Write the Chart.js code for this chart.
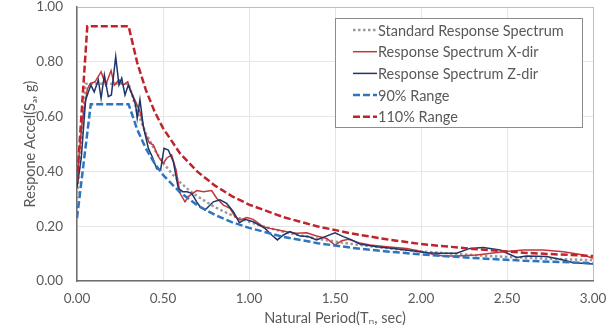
<!DOCTYPE html>
<html>
<head>
<meta charset="utf-8">
<script src="https://cdn.jsdelivr.net/npm/chart.js@4.4.0/dist/chart.umd.min.js"></script>
<style>
  html, body { margin: 0; padding: 0; background: #fff; }
  #wrap { width: 613px; height: 330px; position: relative; }
</style>
</head>
<body>
<div id="wrap"><canvas id="chart"></canvas></div>
<script>
// Standard response spectrum (gray dotted)
const periodsStd = [0, 0.05, 0.3, 0.35, 0.4, 0.45, 0.5, 0.55, 0.6, 0.65, 0.7, 0.8, 0.9, 1.0, 1.1, 1.2, 1.3, 1.4, 1.5, 1.6, 1.7, 1.8, 2.0, 2.2, 2.4, 2.5, 2.7, 3.0];
const accelStd = [0.30, 0.72, 0.72, 0.617, 0.54, 0.48, 0.432, 0.393, 0.36, 0.332, 0.309, 0.27, 0.24, 0.216, 0.196, 0.18, 0.166, 0.154, 0.144, 0.135, 0.127, 0.12, 0.108, 0.099, 0.091, 0.088, 0.082, 0.076];

// Response spectrum X-dir (red)
const periodsX = [0, 0.03, 0.06, 0.076, 0.105, 0.14, 0.167, 0.198, 0.217, 0.244, 0.269, 0.295, 0.314, 0.337, 0.366, 0.395, 0.42, 0.444, 0.473, 0.502, 0.521, 0.55, 0.576, 0.599, 0.628, 0.647, 0.696, 0.735, 0.783, 0.812, 0.851, 0.89, 0.919, 0.948, 0.987, 1.025, 1.083, 1.122, 1.17, 1.219, 1.277, 1.335, 1.393, 1.452, 1.5, 1.539, 1.578, 1.636, 1.703, 1.8, 1.917, 1.994, 2.07, 2.13, 2.207, 2.324, 2.479, 2.595, 2.711, 2.828, 2.944, 3.0];
const accelX = [0.38, 0.58, 0.70, 0.72, 0.727, 0.764, 0.715, 0.768, 0.715, 0.734, 0.715, 0.727, 0.69, 0.66, 0.618, 0.54, 0.505, 0.496, 0.454, 0.429, 0.448, 0.46, 0.405, 0.32, 0.289, 0.308, 0.33, 0.326, 0.33, 0.302, 0.277, 0.265, 0.235, 0.223, 0.232, 0.225, 0.198, 0.192, 0.186, 0.18, 0.174, 0.176, 0.164, 0.155, 0.131, 0.147, 0.152, 0.14, 0.131, 0.125, 0.119, 0.109, 0.098, 0.091, 0.091, 0.095, 0.107, 0.113, 0.113, 0.107, 0.095, 0.083];

// Response spectrum Z-dir (navy)
const periodsZ = [0, 0.025, 0.05, 0.066, 0.081, 0.1, 0.124, 0.14, 0.159, 0.182, 0.2, 0.225, 0.244, 0.26, 0.279, 0.298, 0.322, 0.341, 0.35, 0.366, 0.386, 0.415, 0.44, 0.463, 0.486, 0.506, 0.531, 0.56, 0.589, 0.615, 0.64, 0.667, 0.696, 0.715, 0.744, 0.793, 0.831, 0.87, 0.909, 0.944, 0.977, 1.025, 1.093, 1.132, 1.165, 1.2, 1.238, 1.297, 1.345, 1.393, 1.442, 1.5, 1.548, 1.597, 1.645, 1.742, 1.84, 1.936, 2.033, 2.11, 2.207, 2.285, 2.362, 2.459, 2.556, 2.614, 2.73, 2.828, 2.886, 3.0];
const accelZ = [0.34, 0.45, 0.66, 0.69, 0.715, 0.69, 0.734, 0.667, 0.752, 0.673, 0.679, 0.819, 0.715, 0.74, 0.679, 0.715, 0.679, 0.642, 0.594, 0.662, 0.563, 0.484, 0.45, 0.41, 0.405, 0.484, 0.478, 0.435, 0.338, 0.326, 0.326, 0.32, 0.289, 0.271, 0.259, 0.289, 0.296, 0.283, 0.253, 0.213, 0.225, 0.216, 0.192, 0.168, 0.15, 0.168, 0.18, 0.164, 0.162, 0.15, 0.162, 0.176, 0.162, 0.15, 0.135, 0.125, 0.119, 0.111, 0.103, 0.101, 0.101, 0.119, 0.122, 0.113, 0.086, 0.091, 0.089, 0.077, 0.067, 0.062];

// 90% range (blue dashed)
const periods90 = [0, 0.08, 0.3, 0.35, 0.4, 0.45, 0.5, 0.6, 0.7, 0.8, 0.9, 1.0, 1.2, 1.4, 1.6, 1.8, 2.0, 2.3, 2.6, 3.0];
const accel90 = [0.23, 0.645, 0.645, 0.553, 0.484, 0.43, 0.387, 0.323, 0.276, 0.242, 0.215, 0.194, 0.161, 0.138, 0.121, 0.108, 0.097, 0.084, 0.074, 0.065];

// 110% range (red dashed)
const periods110 = [0, 0.06, 0.3, 0.35, 0.4, 0.45, 0.5, 0.6, 0.7, 0.8, 0.9, 1.0, 1.2, 1.4, 1.6, 1.8, 2.0, 2.3, 2.6, 3.0];
const accel110 = [0.36, 0.93, 0.93, 0.797, 0.698, 0.62, 0.558, 0.465, 0.399, 0.349, 0.31, 0.279, 0.233, 0.199, 0.173, 0.152, 0.135, 0.117, 0.103, 0.091];

const seriesNames = ['Standard Response Spectrum', 'Response Spectrum X-dir', 'Response Spectrum Z-dir', '90% Range', '110% Range'];

const FONT = "Lato, 'Open Sans', sans-serif";
const TEXT = '#595959';

function pts(xs, ys) {
  return xs.map((x, i) => ({ x: x, y: ys[i] }));
}

function near(a, b) {
  return Math.abs(a - b) < 1e-6;
}

const legendBox = {
  id: 'legendBox',
  afterDatasetsDraw(chart) {
    const { ctx, chartArea } = chart;
    const w = 247, h = 109;
    const left = chartArea.right - 11 - w;
    const top = chartArea.top + 11;
    ctx.save();
    ctx.fillStyle = '#fff';
    ctx.fillRect(left, top, w, h);
    ctx.strokeStyle = '#8c8c8c';
    ctx.lineWidth = 1;
    ctx.strokeRect(left + 0.5, top + 0.5, w, h);
    ctx.font = '14.5px ' + FONT;
    ctx.textBaseline = 'middle';
    ctx.fillStyle = TEXT;
    chart.data.datasets.forEach((ds, i) => {
      const y = top + 12 + i * 21.7;
      ctx.save();
      ctx.strokeStyle = ds.borderColor;
      ctx.lineWidth = ds.borderWidth;
      ctx.setLineDash(ds.borderDash || []);
      ctx.lineCap = ds.borderCapStyle || 'butt';
      ctx.beginPath();
      ctx.moveTo(left + 18, y);
      ctx.lineTo(left + 42, y);
      ctx.stroke();
      ctx.restore();
      ctx.fillText(ds.label, left + 43, y + 1);
    });
    ctx.restore();
  }
};

new Chart(document.getElementById('chart'), {
  type: 'line',
  data: {
    datasets: [
      { label: seriesNames[0], data: pts(periodsStd, accelStd), borderColor: '#9a9a9a', borderWidth: 2.5, borderDash: [2.5, 2.5], order: 4 },
      { label: seriesNames[1], data: pts(periodsX, accelX), borderColor: '#c4363a', borderWidth: 1.5, order: 3 },
      { label: seriesNames[2], data: pts(periodsZ, accelZ), borderColor: '#1f3468', borderWidth: 1.5, order: 2 },
      { label: seriesNames[3], data: pts(periods90, accel90), borderColor: '#2e75c0', borderWidth: 2.5, borderDash: [7, 3], order: 1 },
      { label: seriesNames[4], data: pts(periods110, accel110), borderColor: '#c0232b', borderWidth: 2.5, borderDash: [7, 3], order: 0 }
    ]
  },
  options: {
    responsive: true,
    maintainAspectRatio: false,
    animation: false,
    devicePixelRatio: 1,
    elements: { point: { radius: 0 }, line: { tension: 0 } },
    layout: { padding: { top: 7, right: 20, left: 0, bottom: 0 } },
    plugins: { legend: { display: false }, tooltip: { enabled: false } },
    scales: {
      x: {
        type: 'linear',
        min: 0,
        max: 3,
        afterFit(scale) {
          scale.height = 49;
          scale.paddingLeft = 0;
          scale.paddingRight = 0;
        },
        ticks: { stepSize: 0.5, padding: 10, color: TEXT, font: { family: FONT, size: 13.5 }, callback: v => v.toFixed(2) },
        grid: { drawTicks: false, color: c => near(c.tick.value, 3) ? '#bfbfbf' : '#e6e6e6' },
        border: { color: '#6f6f6f', width: 1.5 },
        title: { display: true, text: 'Natural Period(Tₙ, sec)', color: TEXT, font: { family: FONT, size: 14.5 }, padding: { bottom: 3 } }
      },
      y: {
        min: 0,
        max: 1,
        afterFit(scale) {
          scale.width = 77;
          scale.paddingTop = 0;
          scale.paddingBottom = 0;
        },
        ticks: { stepSize: 0.2, padding: 14, color: TEXT, font: { family: FONT, size: 13.5 }, callback: v => v.toFixed(2) },
        grid: { drawTicks: false, color: c => near(c.tick.value, 1) ? '#bfbfbf' : '#e6e6e6' },
        border: { color: '#6f6f6f', width: 1.5 },
        title: { display: true, text: 'Respone Accel(Sₐ, g)', color: TEXT, font: { family: FONT, size: 14.5 }, padding: { top: 22 } }
      }
    }
  },
  plugins: [legendBox]
});
</script>
</body>
</html>
